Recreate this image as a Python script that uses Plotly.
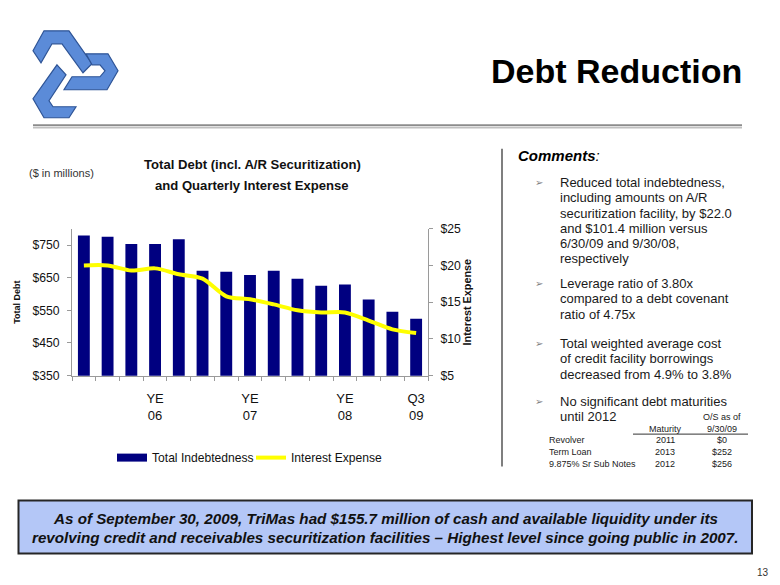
import plotly.graph_objects as go

# ---------------- data ----------------
quarters = ["Q1 06", "Q2 06", "Q3 06", "Q4 06", "Q1 07", "Q2 07", "Q3 07", "Q4 07",
            "Q1 08", "Q2 08", "Q3 08", "Q4 08", "Q1 09", "Q2 09", "Q3 09"]
quarter_labels = ["", "", "", "YE<br>06", "", "", "", "YE<br>07",
                  "", "", "", "YE<br>08", "", "", "Q3<br>09"]
total_debt = [779, 775, 753, 753, 768, 671, 668, 658, 671, 647, 625, 629, 583, 546, 524]
interest_expense = [20.0, 20.0, 19.3, 19.6, 18.8, 18.2, 15.8, 15.4, 14.7, 13.9, 13.6, 13.6, 12.5, 11.3, 10.8]
debt_ticks = [350, 450, 550, 650, 750]
debt_tick_labels = ["$350", "$450", "$550", "$650", "$750"]
int_ticks = [5, 10, 15, 20, 25]
int_tick_labels = ["$5", "$10", "$15", "$20", "$25"]

table_rows = ["Revolver", "Term Loan", "9.875% Sr Sub Notes"]
table_maturity = ["2011", "2013", "2012"]
table_os = ["$0", "$252", "$256"]

# placement of the figure inside the captured page
OFFX = 8
TY, SY = 14.2, 0.9765
W, H = 780 - OFFX, 585
SANS = "Liberation Sans, Arial, sans-serif"
NAVY = "#000080"


def px(x):
    return (x - OFFX) / W


def py(y):
    return 1 - ((y - TY) / SY) / H


fig = go.Figure()
fig.add_trace(go.Bar(x=quarters, y=total_debt, name="Total Indebtedness",
                     marker=dict(color=NAVY, line=dict(width=0)), width=0.5,
                     yaxis="y", showlegend=False, legendgroup="debt"))
# legend key for the bars (wide flat rectangle as in the original)
fig.add_trace(go.Scatter(x=[None], y=[None], name="Total Indebtedness", mode="lines",
                         line=dict(color=NAVY, width=8), legendgroup="debt", hoverinfo="skip"))
fig.add_trace(go.Scatter(x=quarters, y=interest_expense, name="Interest Expense",
                         mode="lines", line=dict(color="#FFFF00", width=4, shape="spline", smoothing=0.8),
                         yaxis="y2"))

axis_grey = "#9A9A9A"
tick_font = dict(family=SANS, size=12.2, color="#111111")
fig.update_layout(
    width=W, height=H, margin=dict(l=0, r=0, t=0, b=0),
    paper_bgcolor="white", plot_bgcolor="white",
    xaxis=dict(domain=[px(72), px(428)], type="category", tickmode="array",
               tickvals=quarters, ticktext=quarter_labels, tickson="boundaries",
               ticks="outside", ticklen=4, tickcolor=axis_grey, showline=True,
               linecolor=axis_grey, linewidth=1, showgrid=False, zeroline=False,
               tickfont=dict(family=SANS, size=13, color="#111111"), tickangle=0,
               ticklabelstandoff=11, range=[-0.5, 14.5]),
    yaxis=dict(domain=[py(375), py(228)], range=[350, 800], tickmode="array",
               tickvals=debt_ticks, ticktext=debt_tick_labels, ticks="outside", ticklen=4,
               tickcolor=axis_grey, showline=True, linecolor=axis_grey, showgrid=False,
               zeroline=False, tickfont=tick_font, ticklabelstandoff=5,
               title=dict(text="<b>Total Debt</b>", standoff=10,
                          font=dict(family=SANS, size=9, color="#111111"))),
    yaxis2=dict(overlaying="y", side="right", anchor="x", range=[5, 25], tickmode="array",
                tickvals=int_ticks, ticktext=int_tick_labels, ticks="outside", ticklen=4,
                tickcolor=axis_grey, showline=True, linecolor=axis_grey, showgrid=False,
                zeroline=False, tickfont=tick_font, ticklabelstandoff=5,
                title=dict(text="<b>Interest Expense</b>", standoff=1,
                           font=dict(family=SANS, size=10.8, color="#111111"))),
    legend=dict(orientation="h", x=px(112), xanchor="left", y=py(457), yanchor="middle",
                font=dict(family=SANS, size=12.1, color="#111111"), itemwidth=30,
                entrywidth=94, entrywidthmode="pixels",
                bgcolor="rgba(0,0,0,0)", traceorder="normal"),
    showlegend=True,
)

shapes = []
# header double rule
shapes.append(dict(type="line", xref="paper", yref="paper", x0=px(33), x1=px(742), y0=py(124.5), y1=py(124.5),
                   line=dict(color="#8C8C8C", width=2)))
shapes.append(dict(type="line", xref="paper", yref="paper", x0=px(33), x1=px(742), y0=py(127), y1=py(127),
                   line=dict(color="#C0C0C0", width=1.5)))
# vertical divider
shapes.append(dict(type="line", xref="paper", yref="paper", x0=px(502), x1=px(502), y0=py(148), y1=py(466),
                   line=dict(color="#555555", width=1.5)))
# table underline
shapes.append(dict(type="line", xref="paper", yref="paper", x0=px(633), x1=px(748), y0=py(433.5), y1=py(433.5),
                   line=dict(color="#333333", width=1)))
# bottom box
shapes.append(dict(type="rect", xref="paper", yref="paper", x0=px(18.5), x1=px(752), y0=py(553), y1=py(500),
                   fillcolor="#B4C7F7", line=dict(color="#262626", width=2)))

# logo pieces (decorative)
logo_pieces = [
    [(33, 50), (44, 30), (69, 30), (92, 63), (83, 72), (62, 43), (52, 43), (41, 62)],
    [(86, 53), (108, 53), (118, 70), (107, 89), (64, 89), (72, 76), (100, 76), (105, 70), (100, 64), (92, 64)],
    [(57, 64), (66, 74), (49, 100), (53, 106), (76, 106), (69, 117), (44, 117), (33, 98)],
]
for piece in logo_pieces:
    path = "M " + " L ".join(f"{px(x):.5f},{py(y):.5f}" for x, y in piece) + " Z"
    shapes.append(dict(type="path", xref="paper", yref="paper", path=path,
                       fillcolor="#5B8BD8", line=dict(color="#2E5496", width=1.2)))

fig.update_layout(shapes=shapes)

ann = []


def text(x, y, s, size, family=SANS, color="#1a1a1a", xanchor="left", yanchor="middle"):
    ann.append(dict(xref="paper", yref="paper", x=px(x), y=py(y), text=s, showarrow=False,
                    xanchor=xanchor, yanchor=yanchor, font=dict(family=family, size=size, color=color)))


# chart title
text(252, 164, "<b>Total Debt (incl. A/R Securitization)</b>", 13.1, color="#111111", xanchor="center")
text(252, 185, "<b>and Quarterly Interest Expense</b>", 13.1, color="#111111", xanchor="center")

text(744, 70, "<b>Debt Reduction</b>", 34, color="#000000", xanchor="right")
text(27, 172.5, "($ in millions)", 11, color="#333333")
text(516, 155, "<b><i>Comments</i></b><i>:</i>", 15, color="#000000")

bullets = [
    (181.7, ["Reduced total indebtedness,", "including amounts on A/R", "securitization facility, by $22.0",
             "and $101.4 million versus", "6/30/09 and 9/30/08,", "respectively"]),
    (283, ["Leverage ratio of 3.80x", "compared to a debt covenant", "ratio of 4.75x"]),
    (343, ["Total weighted average cost", "of credit facility borrowings", "decreased from 4.9% to 3.8%"]),
    (400.5, ["No significant debt maturities", "until 2012"]),
]
for y0, lines in bullets:
    text(533, y0, "➢", 10, family="DejaVu Sans", color="#7F7F7F")
    for i, line in enumerate(lines):
        text(558, y0 + i * 15.3, line, 13)

# table
text(722, 416, "O/S as of", 9, xanchor="center")
text(665, 428, "Maturity", 9, xanchor="center")
text(722, 428, "9/30/09", 9, xanchor="center")
for i, (lab, mat, os_) in enumerate(zip(table_rows, table_maturity, table_os)):
    yy = 439.5 + i * 12
    text(547, yy, lab, 9)
    text(665, yy, mat, 9, xanchor="center")
    text(722, yy, os_, 9, xanchor="center")

text(385, 518, "<b><i>As of September 30, 2009, TriMas had $155.7 million of cash and available liquidity under its</i></b>",
     15.2, color="#111111", xanchor="center")
text(385, 536.5, "<b><i>revolving credit and receivables securitization facilities – Highest level since going public in 2007.</i></b>",
     15.2, color="#111111", xanchor="center")
text(763, 572, "13", 10, color="#333333", xanchor="center")

fig.update_layout(annotations=ann)
fig.write_html("out.html")
